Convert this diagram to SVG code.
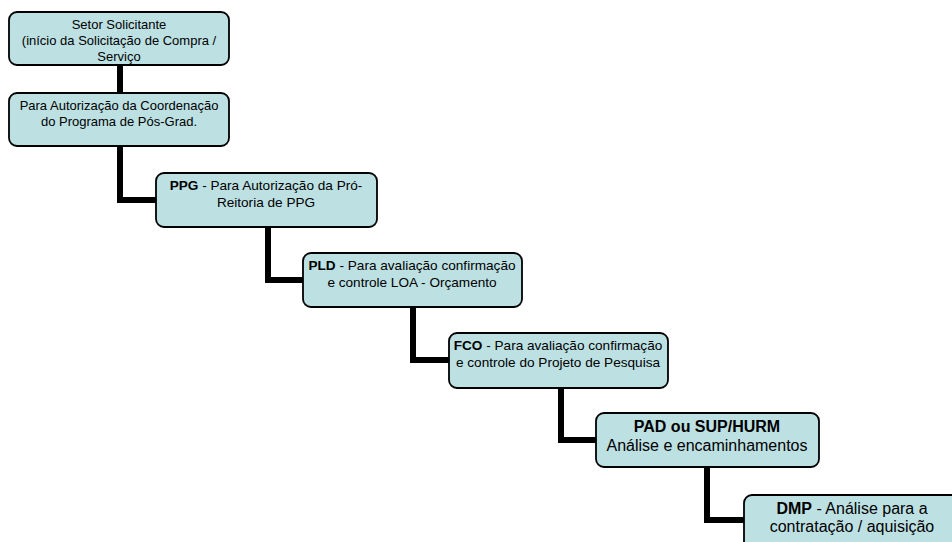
<svg xmlns="http://www.w3.org/2000/svg" width="952" height="542" viewBox="0 0 952 542">
<style>
.box{fill:#bde0e3;stroke:#000;stroke-width:1.8}
.t{font-family:"Liberation Sans",Arial,sans-serif;font-size:13px;fill:#000;text-anchor:middle}
.tm{font-family:"Liberation Sans",Arial,sans-serif;font-size:13.6px;fill:#000;text-anchor:middle}
.tl{font-family:"Liberation Sans",Arial,sans-serif;font-size:16px;fill:#000;text-anchor:middle}
.b{font-weight:bold}
.c{fill:none;stroke:#000;stroke-width:6}
</style>
<rect width="952" height="542" fill="#fff"/>
<g id="connectors">
<path class="c" d="M120 65V93"/>
<path class="c" d="M120 146V200H156"/>
<path class="c" d="M268 227V280H303"/>
<path class="c" d="M413 307V360H449"/>
<path class="c" d="M561 388V440H596"/>
<path class="c" d="M707 467V520H744"/>
</g>
<g id="n1">
<rect class="box" x="9" y="12" width="220" height="53" rx="8"/>
<text class="t" x="119" y="29">Setor Solicitante</text>
<text class="t" x="119" y="45">(início da Solicitação de Compra /</text>
<text class="t" x="119" y="61">Serviço</text>
</g>
<g id="n2">
<rect class="box" x="9" y="93" width="220" height="53" rx="8"/>
<text class="t" x="119" y="110">Para Autorização da Coordenação</text>
<text class="t" x="119" y="126">do Programa de Pós-Grad.</text>
</g>
<g id="n3">
<rect class="box" x="156" y="173" width="221" height="54" rx="8"/>
<text class="tm" x="266" y="190"><tspan class="b">PPG</tspan> - Para Autorização da Pró-</text>
<text class="tm" x="266" y="207">Reitoria de PPG</text>
</g>
<g id="n4">
<rect class="box" x="303" y="253" width="219" height="54" rx="8"/>
<text class="tm" x="412" y="270"><tspan class="b">PLD</tspan> - Para avaliação confirmação</text>
<text class="tm" x="412" y="287">e controle LOA - Orçamento</text>
</g>
<g id="n5">
<rect class="box" x="449" y="333" width="219" height="55" rx="8"/>
<text class="tm" x="558" y="350"><tspan class="b">FCO</tspan> - Para avaliação confirmação</text>
<text class="tm" x="558" y="367">e controle do Projeto de Pesquisa</text>
</g>
<g id="n6">
<rect class="box" x="596" y="413" width="223" height="54" rx="8"/>
<text class="tl b" x="707" y="432">PAD ou SUP/HURM</text>
<text class="tl" x="707" y="451">Análise e encaminhamentos</text>
</g>
<g id="n7">
<rect class="box" x="744" y="495" width="220" height="60" rx="8"/>
<text class="tl" x="852" y="514"><tspan class="b">DMP</tspan> - Análise para a</text>
<text class="tl" x="852" y="532">contratação / aquisição</text>
</g>
</svg>
